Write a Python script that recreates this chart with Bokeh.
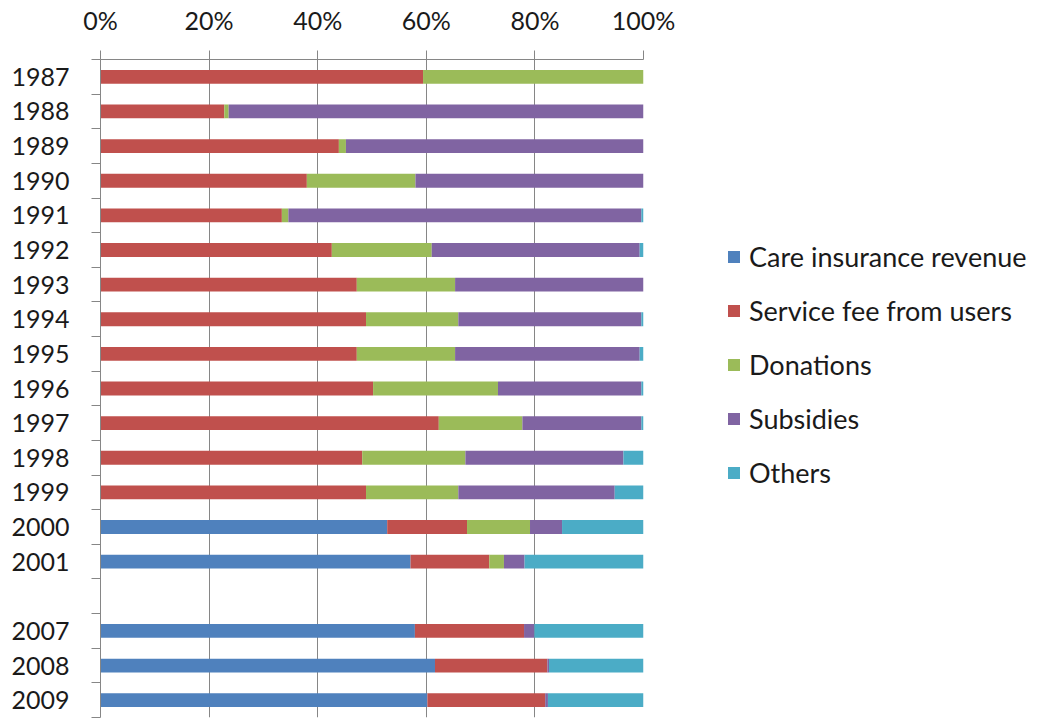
from bokeh.plotting import figure
from bokeh.models import (Range1d, FixedTicker, PrintfTickFormatter, Legend,
                          LegendItem, ColumnDataSource)
from bokeh.embed import file_html
from bokeh.resources import INLINE

# ---- data (share of revenue, %) ----
slots = ["1987", "1988", "1989", "1990", "1991", "1992", "1993", "1994",
         "1995", "1996", "1997", "1998", "1999", "2000", "2001", "",
         "2007", "2008", "2009"]
years = ["1987", "1988", "1989", "1990", "1991", "1992", "1993", "1994",
         "1995", "1996", "1997", "1998", "1999", "2000", "2001",
         "2007", "2008", "2009"]
series_names = ["Care insurance revenue", "Service fee from users",
                "Donations", "Subsidies", "Others"]
care = [0, 0, 0, 0, 0, 0, 0, 0, 0, 0, 0, 0, 0, 52.8, 57.1, 57.9, 61.6, 60.2]
service = [59.4, 22.8, 43.9, 38.0, 33.4, 42.6, 47.2, 48.9, 47.2, 50.2, 62.3,
           48.2, 48.9, 14.7, 14.5, 20.1, 20.7, 21.7]
donations = [40.6, 0.8, 1.3, 20.0, 1.2, 18.4, 18.1, 17.0, 18.1, 23.0, 15.4,
             19.0, 17.0, 11.6, 2.7, 0.0, 0.0, 0.0]
subsidies = [0.0, 76.4, 54.8, 42.0, 65.0, 38.3, 34.7, 33.7, 34.0, 26.4, 21.9,
             29.1, 28.8, 5.9, 3.8, 1.9, 0.3, 0.5]
others = [0.0, 0.0, 0.0, 0.0, 0.4, 0.7, 0.0, 0.4, 0.7, 0.4, 0.4, 3.7, 5.3,
          15.0, 21.9, 20.1, 17.4, 17.6]
x_ticks = [0, 20, 40, 60, 80, 100]

colors = ["#4F81BD", "#C0504D", "#9BBB59", "#8064A2", "#4BACC6"]
FONT = "Lato"
GRID = "#868686"

ypos = [slots.index(y) for y in years]
keys = ["care", "service", "donations", "subsidies", "others"]
src = ColumnDataSource(dict(y=ypos, care=care, service=service,
                            donations=donations, subsidies=subsidies,
                            others=others))

n = len(slots)
p = figure(frame_width=543, frame_height=658, output_backend="svg",
           toolbar_location=None,
           x_range=Range1d(0, 100), y_range=Range1d(n - 0.5, -0.5),
           x_axis_location="above", min_border_left=100, min_border_right=0,
           min_border_top=59, min_border_bottom=3)
p.outline_line_color = None
p.background_fill_color = "white"
p.border_fill_color = "white"

renderers = p.hbar_stack(keys, y="y", height=0.4, color=colors, source=src,
                         line_color=None)

# x axis (top)
xa = p.xaxis[0]
xa.ticker = FixedTicker(ticks=x_ticks)
xa.formatter = PrintfTickFormatter(format="%d%%")
xa.major_tick_out = 9
xa.major_tick_in = 0
xa.minor_tick_out = 0
xa.minor_tick_in = 0
xa.axis_line_color = GRID
xa.major_tick_line_color = GRID
xa.major_label_text_font = FONT
xa.major_label_text_font_size = "25px"
xa.major_label_text_color = "#1a1a1a"
xa.major_label_standoff = 16

# y axis (left)
ya = p.yaxis[0]
ya.ticker = FixedTicker(ticks=ypos, minor_ticks=[i - 0.5 for i in range(n + 1)])
ya.major_label_overrides = {i: slots[i] for i in ypos}
ya.major_tick_out = 0
ya.major_tick_in = 0
ya.minor_tick_out = 9
ya.minor_tick_in = 0
ya.axis_line_color = GRID
ya.minor_tick_line_color = GRID
ya.major_label_text_font = FONT
ya.major_label_text_font_size = "25px"
ya.major_label_text_color = "#1a1a1a"
ya.major_label_standoff = 22

p.xgrid.ticker = FixedTicker(ticks=x_ticks)
p.xgrid.grid_line_color = GRID
p.ygrid.grid_line_color = None

legend = Legend(items=[LegendItem(label=name, renderers=[r])
                       for name, r in zip(series_names, renderers)],
                location=(83, 228), orientation="vertical")
legend.glyph_width = 15
legend.glyph_height = 15
legend.label_standoff = 8
legend.label_text_font = FONT
legend.label_text_font_size = "27px"
legend.label_text_color = "#1a1a1a"
legend.label_height = 20
legend.spacing = 21
legend.padding = 0
legend.margin = 0
legend.border_line_color = None
legend.background_fill_alpha = 0
p.add_layout(legend, "right")

open("out.html", "w").write(file_html(p, INLINE))
